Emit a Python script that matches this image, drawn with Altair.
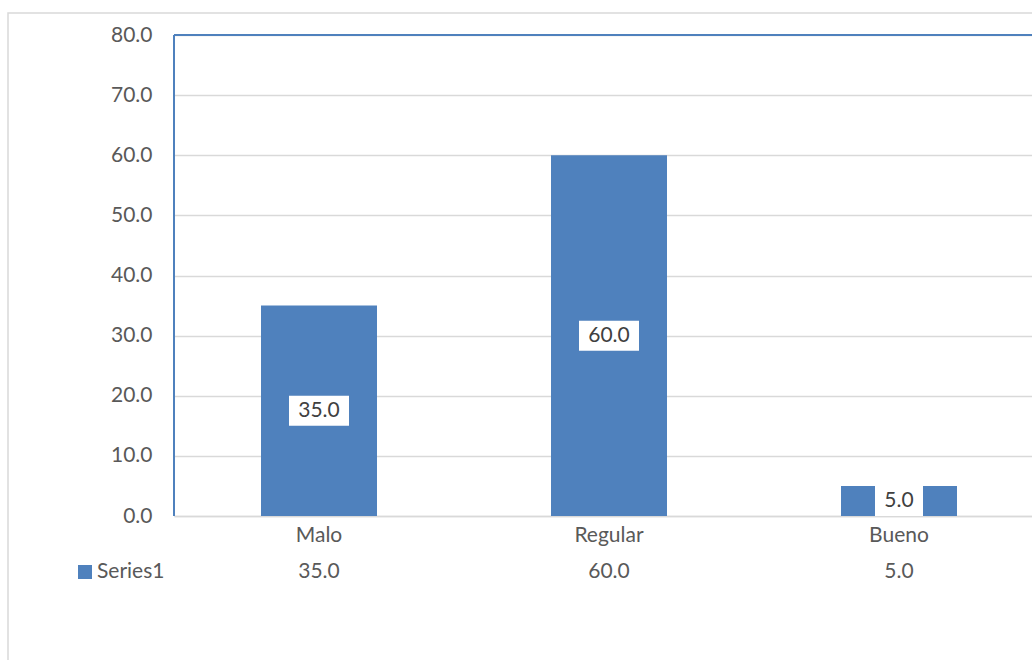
import altair as alt
import pandas as pd

categories = ["Malo", "Regular", "Bueno"]
values = [35.0, 60.0, 5.0]
series_name = "Series1"
y_ticks = [0, 10, 20, 30, 40, 50, 60, 70, 80]

df = pd.DataFrame({"category": categories, "value": values})
legend_df = pd.DataFrame({"series": [series_name]})
one_df = pd.DataFrame({"k": [0]})

FONT = "Lato"
BLUE = "#4f81bd"
GRID = "#d9d9d9"
LABEL = "#595959"

# The plot area is wider than the window (it is cut off at the right edge),
# so the band scale gets an explicit range wider than the drawn width.
x_scale = alt.Scale(domain=categories, range=[0, 870], paddingInner=0.6, paddingOuter=0.3)
x_axis = alt.Axis(title=None, labelFont=FONT, labelFontSize=21, labelColor=LABEL,
                  labelPadding=8, ticks=False, domainColor=GRID, domainWidth=1.5,
                  labelAngle=0, grid=False)
y_scale = alt.Scale(domain=[0, 80], nice=False)
y_axis = alt.Axis(title=None, values=y_ticks, format=".1f", labelFont=FONT,
                  labelFontSize=21, labelColor=LABEL, labelPadding=22, ticks=False,
                  domain=False, gridColor=GRID, gridWidth=1.5)

X = alt.X("category:N", scale=x_scale, axis=x_axis, sort=categories)

base = alt.Chart(df).transform_calculate(
    mid="datum.value / 2",
    label="format(datum.value, '.1f')",
    boxw="length(format(datum.value, '.1f')) * 12 + 12",
)

bars = base.mark_bar(color=BLUE).encode(
    x=X, y=alt.Y("value:Q", scale=y_scale, axis=y_axis)
)

boxes = base.mark_bar(color="white", yOffset=-15, y2Offset=15).encode(
    x=X,
    y=alt.Y("mid:Q", scale=y_scale, axis=y_axis),
    y2=alt.Y2("mid:Q"),
    size=alt.Size("boxw:Q", scale=None, legend=None),
)

box_text = base.mark_text(font=FONT, fontSize=21, color="#404040", baseline="middle").encode(
    x=X,
    y=alt.Y("mid:Q", scale=y_scale, axis=y_axis),
    text="label:N",
)

table_text = base.mark_text(font=FONT, fontSize=21, color=LABEL, baseline="middle").encode(
    x=X, y=alt.value(537), text="label:N"
)

legend_text = alt.Chart(legend_df).mark_text(
    font=FONT, fontSize=21, color=LABEL, baseline="middle", align="left"
).encode(x=alt.value(-77), y=alt.value(537), text="series:N")

swatch = alt.Chart(legend_df).mark_square(color=BLUE, size=196, opacity=1, filled=True).encode(
    x=alt.value(-89), y=alt.value(537)
)

frame = alt.Chart(one_df).mark_rect(fillOpacity=0, stroke=GRID, strokeWidth=1.5).encode(
    x=alt.value(-166), x2=alt.value(1000), y=alt.value(-22), y2=alt.value(700)
)

top_edge = alt.Chart(one_df).mark_rule(color=BLUE, strokeWidth=2).encode(
    x=alt.value(0), x2=alt.value(870), y=alt.value(0)
)
left_edge = alt.Chart(one_df).mark_rule(color=BLUE, strokeWidth=2).encode(
    x=alt.value(0), y=alt.value(0), y2=alt.value(481)
)

chart = alt.layer(
    frame, bars, boxes, box_text, table_text, legend_text, swatch, top_edge, left_edge
).properties(
    width=858,
    height=481,
    padding={"left": 174, "top": 35, "right": 0, "bottom": 144},
    autosize=alt.AutoSizeParams(type="none"),
    background="white",
).configure_view(stroke=None)

chart.save("out.html", embed_options={"renderer": "svg", "actions": False})
